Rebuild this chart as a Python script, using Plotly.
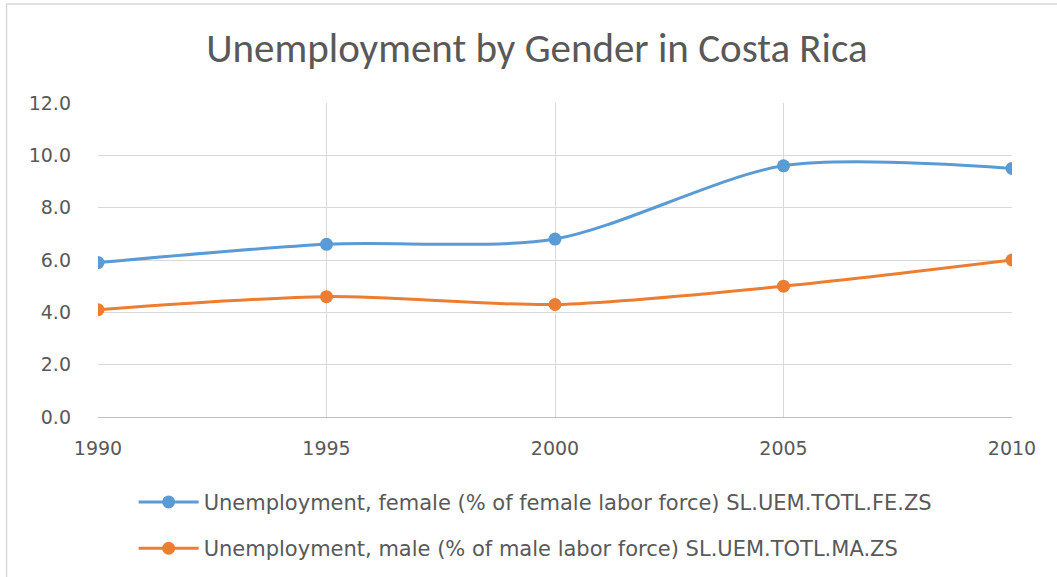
import plotly.graph_objects as go

years = ["1990", "1995", "2000", "2005", "2010"]
female = [5.9, 6.6, 6.8, 9.6, 9.5]
male = [4.1, 4.6, 4.3, 5.0, 6.0]
female_name = "Unemployment, female (% of female labor force) SL.UEM.TOTL.FE.ZS"
male_name = "Unemployment, male (% of male labor force) SL.UEM.TOTL.MA.ZS"
title = "Unemployment by Gender in Costa Rica"

TITLE_FONT = "Carlito, Lato, sans-serif"
FONT = "DejaVu Sans, Verdana, sans-serif"
GRAY = "#595959"

fig = go.Figure()
fig.add_trace(go.Scatter(x=years, y=female, name=female_name, mode="lines+markers", legendgroup="f",
                         line=dict(color="#5B9BD5", width=3, shape="spline", smoothing=0.8),
                         marker=dict(size=13, color="#5B9BD5")))
fig.add_trace(go.Scatter(x=years, y=male, name=male_name, mode="lines+markers", legendgroup="m",
                         line=dict(color="#ED7D31", width=3, shape="spline", smoothing=0.8),
                         marker=dict(size=13, color="#ED7D31")))

fig.update_layout(
    width=1057, height=577,
    paper_bgcolor="white", plot_bgcolor="white",
    margin=dict(l=98, r=45, t=103, b=160, autoexpand=False),
    title=dict(text=title, x=0.508, xanchor="center", y=0.918, yanchor="middle",
               font=dict(family=TITLE_FONT, size=41, color=GRAY)),
    font=dict(family=FONT, color=GRAY, size=19),
    xaxis=dict(type="category", range=[0, 4], showgrid=True, gridcolor="#d9d9d9", gridwidth=1.3,
               showline=True, linecolor="#bfbfbf", linewidth=1.3, ticks="", zeroline=False,
               ticklabelstandoff=14, tickfont=dict(family=FONT, size=19, color=GRAY)),
    yaxis=dict(range=[0, 12], dtick=2, tickformat=".1f", showgrid=True, gridcolor="#d9d9d9",
               gridwidth=1.3, zeroline=False, showline=False, ticks="", ticklabelstandoff=26,
               tickfont=dict(family=FONT, size=19, color=GRAY)),
    legend=dict(orientation="v", x=0.039, xanchor="left", y=0.165, yref="container", yanchor="top",
                font=dict(family=FONT, size=21, color=GRAY), tracegroupgap=16, itemwidth=60),
    showlegend=True,
    shapes=[
        dict(type="line", xref="paper", yref="paper", x0=-0.1007, x1=1.05, y0=1.315, y1=1.315,
             line=dict(color="#d9d9d9", width=1.5)),
        dict(type="line", xref="paper", yref="paper", x0=-0.1, x1=-0.1, y0=1.315, y1=-0.52,
             line=dict(color="#d9d9d9", width=1.5)),
    ],
)
fig.write_html("out.html")
